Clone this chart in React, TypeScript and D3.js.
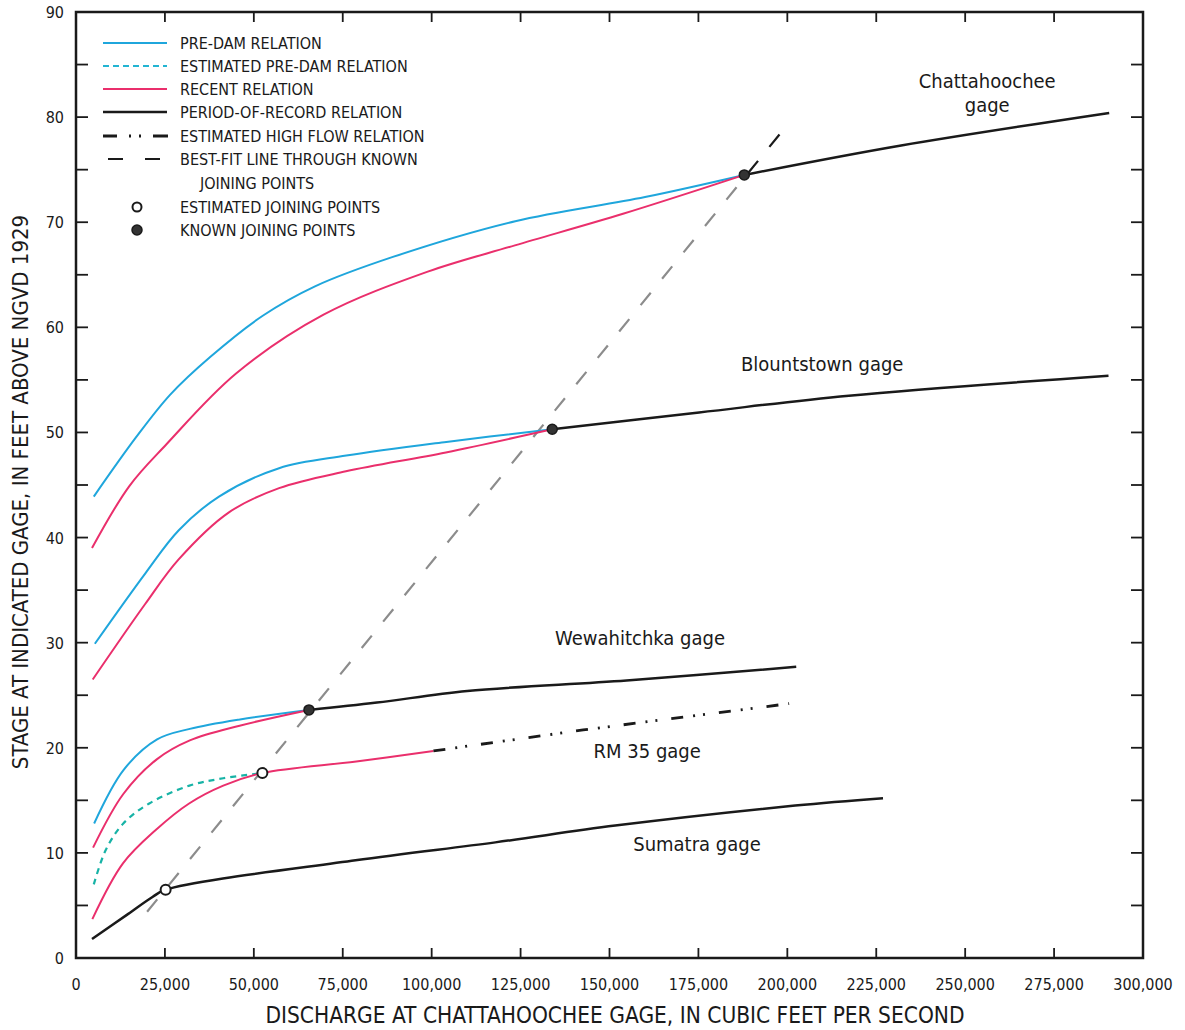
import React from 'react';
import * as d3 from 'd3';

type P = [number, number];

// ---- axis ticks ----
const xTickValues: number[] = [0, 25000, 50000, 75000, 100000, 125000, 150000, 175000, 200000, 225000, 250000, 275000, 300000];
const yLabelValues: number[] = [0, 10, 20, 30, 40, 50, 60, 70, 80, 90];
const yMinorValues: number[] = [5, 10, 15, 20, 25, 30, 35, 40, 45, 50, 55, 60, 65, 70, 75, 80, 85];

// ---- Chattahoochee gage ----
const chattPreDam: P[] = [[5000, 43.9], [16800, 49.5], [26500, 53.6], [37800, 57.2], [52500, 61.1], [67200, 63.9], [89100, 66.7], [123500, 70.1], [160000, 72.4], [187900, 74.5]];
const chattRecent: P[] = [[4500, 39.0], [15000, 44.9], [25500, 48.9], [45000, 55.6], [69600, 61.2], [98900, 65.3], [123400, 67.8], [153800, 70.8], [187900, 74.5]];
const chattRecord: P[] = [[187900, 74.5], [232000, 77.3], [290500, 80.4]];

// ---- Blountstown gage ----
const blountPreDam: P[] = [[5300, 29.9], [19500, 36.6], [28900, 40.7], [40200, 43.9], [57100, 46.6], [76000, 47.8], [104100, 49.1], [133900, 50.3]];
const blountRecent: P[] = [[4700, 26.5], [19500, 33.7], [28800, 37.9], [43000, 42.4], [57100, 44.7], [75900, 46.3], [104000, 48.1], [133900, 50.3]];
const blountRecord: P[] = [[133900, 50.3], [175200, 51.9], [217300, 53.5], [290300, 55.4]];

// ---- Wewahitchka gage ----
const wewaPreDam: P[] = [[5100, 12.8], [13400, 17.9], [22800, 20.8], [32000, 21.8], [46100, 22.7], [65500, 23.6]];
const wewaRecent: P[] = [[4800, 10.5], [13300, 15.6], [22700, 18.9], [32000, 20.7], [46000, 22.1], [65500, 23.6]];
const wewaRecord: P[] = [[65500, 23.6], [84600, 24.3], [110000, 25.4], [154800, 26.4], [202500, 27.7]];

// ---- RM 35 gage ----
const rm35EstPreDam: P[] = [[5000, 7.0], [8400, 10.3], [13300, 12.8], [20600, 14.7], [31900, 16.4], [41400, 17.1], [52400, 17.6]];
const rm35Recent: P[] = [[4600, 3.7], [13200, 9.0], [22500, 12.2], [31800, 14.7], [41400, 16.4], [52400, 17.6], [78800, 18.7], [100500, 19.7]];
const rm35HighFlow: P[] = [[100500, 19.7], [142600, 21.7], [200500, 24.2]];

// ---- Sumatra gage ----
const sumatraRecord: P[] = [[4500, 1.8], [14700, 4.2], [21500, 5.8], [25200, 6.5], [78600, 9.3], [117900, 11.0], [151600, 12.6], [202200, 14.5], [226900, 15.2]];

// ---- joining points ----
const knownJoins: P[] = [[187900, 74.5], [133900, 50.3], [65500, 23.6]];
const estimatedJoins: P[] = [[52400, 17.6], [25200, 6.5]];

// ---- best-fit line through known joining points ----
const bestFit: P[] = [[20000, 4.4], [198400, 78.6]];

// ---- legend ----
const legendItems: string[] = [
  'PRE-DAM RELATION',
  'ESTIMATED PRE-DAM RELATION',
  'RECENT RELATION',
  'PERIOD-OF-RECORD RELATION',
  'ESTIMATED HIGH FLOW RELATION',
  'BEST-FIT LINE THROUGH KNOWN',
  'JOINING POINTS',
  'ESTIMATED JOINING POINTS',
  'KNOWN JOINING POINTS',
];

const xTitle = 'DISCHARGE AT CHATTAHOOCHEE GAGE, IN CUBIC FEET PER SECOND';
const yTitle = 'STAGE AT INDICATED GAGE, IN FEET ABOVE NGVD 1929';

const W = 1185;
const H = 1030;
const L = 76, R = 1143, T = 12, B = 958;

const FONT = "'Liberation Sans Narrow','DejaVu Sans Condensed','Arial Narrow','Liberation Sans',sans-serif";

const BLUE = '#1fa6dc';
const TEAL = '#17b3a6';
const PINK = '#ea2f6c';
const BLACK = '#1a1a1a';
const GRAY = '#8c8c8c';

export default function App() {
  const x = d3.scaleLinear().domain([0, 300000]).range([L, R]);
  const y = d3.scaleLinear().domain([0, 90]).range([B, T]);
  const line = d3.line<P>().x(d => x(d[0])).y(d => y(d[1])).curve(d3.curveCatmullRom.alpha(0.5));
  const straight = d3.line<P>().x(d => x(d[0])).y(d => y(d[1]));
  const fmt = d3.format(',');

  const chattJoinX = x(knownJoins[0][0]);

  const legendRowsY = [43, 66, 89, 112, 136, 159, 183, 207, 230];

  return (
    <svg width={W} height={H} style={{ position: 'absolute', left: 0, top: 0, display: 'block', background: '#fff' }} fontFamily={FONT}>
      <defs>
        <clipPath id="belowJoin"><rect x={0} y={0} width={chattJoinX} height={H} /></clipPath>
        <clipPath id="aboveJoin"><rect x={chattJoinX} y={0} width={W - chattJoinX} height={H} /></clipPath>
      </defs>

      {/* frame */}
      <rect x={L} y={T} width={R - L} height={B - T} fill="none" stroke={BLACK} strokeWidth={2.5} />

      {/* bottom + top ticks */}
      {xTickValues.slice(1, -1).map(v => (
        <g key={'xt' + v}>
          <line x1={x(v)} x2={x(v)} y1={B} y2={B - 10} stroke={BLACK} strokeWidth={1.8} />
          <line x1={x(v)} x2={x(v)} y1={T} y2={T + 10} stroke={BLACK} strokeWidth={1.8} />
        </g>
      ))}
      {xTickValues.map(v => (
        <text key={'xl' + v} x={x(v)} y={990} textAnchor="middle" fontSize={16} fill={BLACK}>{fmt(v)}</text>
      ))}

      {/* left + right ticks */}
      {yMinorValues.map(v => (
        <g key={'yt' + v}>
          <line x1={L} x2={L + 12} y1={y(v)} y2={y(v)} stroke={BLACK} strokeWidth={1.8} />
          <line x1={R} x2={R - 12} y1={y(v)} y2={y(v)} stroke={BLACK} strokeWidth={1.8} />
        </g>
      ))}
      {yLabelValues.map(v => (
        <text key={'yl' + v} x={L - 12} y={y(v) + 6} textAnchor="end" fontSize={16} fill={BLACK}>{v}</text>
      ))}

      {/* axis titles */}
      <text x={615} y={1023} textAnchor="middle" fontSize={22.5} fill={BLACK}>{xTitle}</text>
      <text transform={`translate(28,492) rotate(-90)`} textAnchor="middle" fontSize={22} fill={BLACK}>{yTitle}</text>

      {/* best-fit line */}
      <path d={straight(bestFit) || ''} fill="none" stroke={GRAY} strokeWidth={2.2} strokeDasharray="16 18" clipPath="url(#belowJoin)" />
      <path d={straight(bestFit) || ''} fill="none" stroke={BLACK} strokeWidth={2.2} strokeDasharray="16 18" clipPath="url(#aboveJoin)" />

      {/* pre-dam */}
      {[chattPreDam, blountPreDam, wewaPreDam].map((d, i) => (
        <path key={'pd' + i} d={line(d) || ''} fill="none" stroke={BLUE} strokeWidth={2} />
      ))}
      <path d={line(rm35EstPreDam) || ''} fill="none" stroke={TEAL} strokeWidth={2.2} strokeDasharray="6 5" />

      {/* recent */}
      {[chattRecent, blountRecent, wewaRecent, rm35Recent].map((d, i) => (
        <path key={'rc' + i} d={line(d) || ''} fill="none" stroke={PINK} strokeWidth={2} />
      ))}

      {/* period of record */}
      {[chattRecord, blountRecord, wewaRecord, sumatraRecord].map((d, i) => (
        <path key={'pr' + i} d={line(d) || ''} fill="none" stroke={BLACK} strokeWidth={2.5} />
      ))}

      {/* estimated high flow */}
      <path d={straight(rm35HighFlow) || ''} fill="none" stroke={BLACK} strokeWidth={2.8} strokeDasharray="12 10 2 8 2 14" />

      {/* joining points */}
      {knownJoins.map((d, i) => (
        <circle key={'kj' + i} cx={x(d[0])} cy={y(d[1])} r={5} fill="#333" stroke={BLACK} strokeWidth={1.5} />
      ))}
      {estimatedJoins.map((d, i) => (
        <circle key={'ej' + i} cx={x(d[0])} cy={y(d[1])} r={5} fill="#fff" stroke={BLACK} strokeWidth={2} />
      ))}

      {/* gage labels */}
      <text x={x(256200)} y={y(82.8)} textAnchor="middle" fontSize={20} fill={BLACK}>Chattahoochee</text>
      <text x={x(256200)} y={y(80.5)} textAnchor="middle" fontSize={20} fill={BLACK}>gage</text>
      <text x={x(209800)} y={y(55.8)} textAnchor="middle" fontSize={20} fill={BLACK}>Blountstown gage</text>
      <text x={x(158600)} y={y(29.8)} textAnchor="middle" fontSize={20} fill={BLACK}>Wewahitchka gage</text>
      <text x={x(160600)} y={y(19.0)} textAnchor="middle" fontSize={20} fill={BLACK}>RM 35 gage</text>
      <text x={x(174600)} y={y(10.2)} textAnchor="middle" fontSize={20} fill={BLACK}>Sumatra gage</text>

      {/* legend */}
      <g>
        <line x1={103} x2={167} y1={legendRowsY[0]} y2={legendRowsY[0]} stroke={BLUE} strokeWidth={2} />
        <line x1={103} x2={167} y1={legendRowsY[1]} y2={legendRowsY[1]} stroke={'#22b4d2'} strokeWidth={2} strokeDasharray="6 4" />
        <line x1={103} x2={167} y1={legendRowsY[2]} y2={legendRowsY[2]} stroke={PINK} strokeWidth={2} />
        <line x1={103} x2={167} y1={legendRowsY[3]} y2={legendRowsY[3]} stroke={BLACK} strokeWidth={2.5} />
        <line x1={103} x2={168} y1={legendRowsY[4]} y2={legendRowsY[4]} stroke={BLACK} strokeWidth={2.8} strokeDasharray="14 12 2 8 2 12 16" />
        <line x1={108} x2={160} y1={legendRowsY[5]} y2={legendRowsY[5]} stroke={BLACK} strokeWidth={1.8} strokeDasharray="15 22 15" />
        <circle cx={137} cy={legendRowsY[7]} r={4.5} fill="#fff" stroke={BLACK} strokeWidth={2} />
        <circle cx={137} cy={legendRowsY[8]} r={5} fill="#333" stroke={BLACK} strokeWidth={1.5} />
        {legendItems.map((t, i) => (
          <text key={'lg' + i} x={i === 6 ? 200 : 180} y={legendRowsY[i] + 6} fontSize={16} fill={BLACK}>{t}</text>
        ))}
      </g>
    </svg>
  );
}
